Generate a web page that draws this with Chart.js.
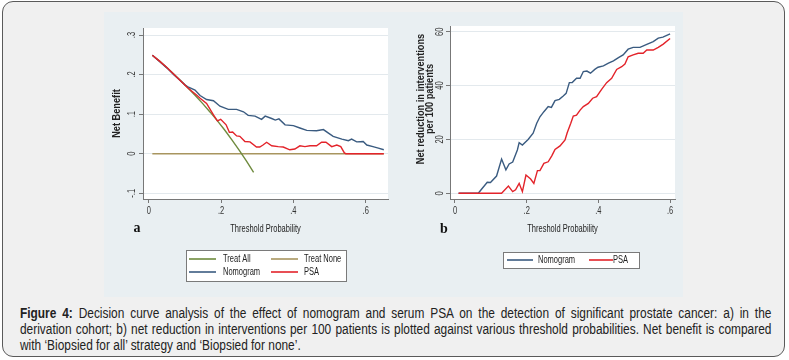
<!DOCTYPE html>
<html><head><meta charset="utf-8">
<script src="https://cdn.jsdelivr.net/npm/chart.js@4"></script>
<style>
html,body{margin:0;padding:0;background:#fff;width:789px;height:360px;overflow:hidden;}
#frame{position:absolute;left:2px;top:1px;width:781px;height:354px;border:1.5px solid #5a5a5a;border-radius:11px;background:#f0f0f0;}
#panels{position:absolute;left:104px;top:12px;width:579px;height:285px;background:#e9eff2;}
#ca{position:absolute;left:104px;top:12px;}
#cb{position:absolute;left:394px;top:12px;}
#cap{position:absolute;left:20px;top:305px;width:884px;transform:scaleX(0.85);transform-origin:0 0;font-family:'Liberation Sans',Arial,sans-serif;font-size:14px;line-height:16px;color:#222;}
#cap div{white-space:nowrap;}
#cap .j{text-align:justify;text-align-last:justify;}
</style>
</head><body>
<div id="frame"></div>
<div id="panels"></div>
<canvas id="ca" width="290" height="285"></canvas>
<canvas id="cb" width="289" height="285"></canvas>
<div id="cap"><div class="j"><b>Figure 4:</b> Decision curve analysis of the effect of nomogram and serum PSA on the detection of significant prostate cancer: a) in the</div><div class="j">derivation cohort; b) net reduction in interventions per 100 patients is plotted against various threshold probabilities. Net benefit is compared</div><div>with ‘Biopsied for all’ strategy and ‘Biopsied for none’.</div></div>
<script>
// ---------- Panel a data (net benefit) ----------
const aTreatAllX = [0.01,0.03,0.05,0.07,0.09,0.11,0.13,0.15,0.17,0.19,0.21,0.23,0.25,0.27,0.29];
const aTreatAllY = [0.249,0.234,0.218,0.201,0.183,0.165,0.146,0.126,0.105,0.083,0.060,0.035,0.009,-0.018,-0.047];
const aTreatNoneX = [0.01,0.65];
const aTreatNoneY = [0,0];
const aNomogramX = [0.01,0.03,0.05,0.07,0.085,0.10,0.11,0.128,0.142,0.16,0.179,0.197,0.22,0.243,0.262,0.275,0.294,0.312,0.322,0.34,0.35,0.36,0.377,0.40,0.418,0.437,0.464,0.483,0.497,0.51,0.534,0.552,0.561,0.575,0.593,0.603,0.62,0.635,0.65];
const aNomogramY = [0.249,0.233,0.217,0.199,0.187,0.174,0.168,0.161,0.147,0.137,0.134,0.120,0.112,0.112,0.106,0.097,0.095,0.087,0.095,0.089,0.085,0.088,0.073,0.071,0.065,0.059,0.058,0.061,0.052,0.044,0.037,0.033,0.037,0.030,0.031,0.022,0.018,0.014,0.010];
const aPsaX = [0.01,0.03,0.05,0.07,0.085,0.11,0.133,0.142,0.16,0.179,0.19,0.199,0.214,0.223,0.232,0.243,0.252,0.266,0.28,0.298,0.307,0.316,0.326,0.34,0.358,0.372,0.39,0.404,0.418,0.432,0.446,0.464,0.478,0.49,0.506,0.52,0.531,0.541,0.545,0.65];
const aPsaY = [0.249,0.234,0.218,0.200,0.187,0.165,0.148,0.140,0.127,0.098,0.083,0.087,0.073,0.054,0.055,0.045,0.044,0.031,0.030,0.017,0.017,0.022,0.029,0.020,0.018,0.017,0.010,0.012,0.020,0.018,0.020,0.020,0.029,0.029,0.018,0.022,0.018,0.002,0,0];
const aXTicks = [0,0.2,0.4,0.6];
const aYTicks = [-0.1,0,0.1,0.2,0.3];

// ---------- Panel b data (net reduction in interventions) ----------
const bNomogramX = [0.01,0.065,0.074,0.09,0.099,0.116,0.13,0.142,0.151,0.161,0.174,0.179,0.188,0.204,0.218,0.228,0.237,0.248,0.26,0.269,0.279,0.291,0.302,0.31,0.319,0.327,0.339,0.349,0.358,0.368,0.378,0.39,0.399,0.414,0.428,0.442,0.456,0.469,0.483,0.497,0.516,0.535,0.553,0.567,0.58,0.6];
const bNomogramY = [0,0,1.5,4.1,4.0,6.4,12.7,8.7,10.9,11.6,16.1,18.8,17.9,20.0,22.3,26.0,28.4,30.3,32.2,31.9,34.4,34.9,36.1,37.1,41.1,41.1,42.7,42.7,45.2,45.4,44.6,46.0,46.8,47.3,48.3,49.2,50.4,51.4,53.5,54.2,54.2,55.3,56.3,57.6,58.0,59.2];
const bPsaX = [0.01,0.13,0.149,0.161,0.169,0.179,0.188,0.198,0.211,0.22,0.23,0.237,0.248,0.26,0.27,0.279,0.293,0.307,0.313,0.323,0.33,0.339,0.349,0.358,0.372,0.384,0.395,0.409,0.423,0.437,0.451,0.465,0.474,0.483,0.497,0.511,0.525,0.535,0.553,0.567,0.581,0.6];
const bPsaY = [0,0,2.7,0.6,1.3,3.7,0.6,6.8,5.3,3.7,8.4,8.4,11.1,11.7,13.9,16.3,17.6,19.8,22.5,26.0,28.7,29.0,30.9,32.2,33.4,35.3,35.9,38.6,41.1,42.7,46.0,47.0,48.0,50.7,51.4,52.0,52.0,53.2,53.2,54.2,55.4,57.5];
const bXTicks = [0,0.2,0.4,0.6];
const bYTicks = [0,20,40,60];

const COL = {'Treat All':'#6f8b3e','Treat None':'#a8955f','Nomogram':'#3a5b80','PSA':'#e3232a'};
const FONT = "'Liberation Sans',Arial,sans-serif";
Chart.defaults.font.family = FONT;
Chart.defaults.color = '#333';

const pts = (xs, ys) => xs.map((x,i)=>({x:x, y:ys[i]}));
const fmt = v => String(v).replace('0.', '.');

// narrow (condensed) rendering of canvas text, like the reference's condensed font
function narrowText(ctx){
  const orig = ctx.fillText;
  ctx.fillText = function(t, x, y){
    const f = this.font;
    if (/Serif/.test(f)) return orig.call(this, t, x, y);
    const sx = /bold/.test(f) ? 0.92 : 0.75;
    this.save(); this.translate(x, y); this.scale(sx, 1); orig.call(this, t, 0, 0); this.restore();
  };
  return ctx;
}

const whiteArea = {
  id:'whiteArea',
  beforeDraw(c){ const a=c.chartArea, x=c.ctx; x.save(); x.fillStyle='#fff'; x.fillRect(a.left,a.top,a.right-a.left,a.bottom-a.top); x.restore(); }
};
const extras = {
  id:'extras',
  afterDraw(c, args, o){
    const ctx=c.ctx, a=c.chartArea;
    ctx.save();
    ctx.font = 'bold 14px "Liberation Serif", serif';
    ctx.fillStyle='#111'; ctx.textAlign='center'; ctx.textBaseline='middle';
    ctx.fillText(o.letter, a.left + o.letterDx, a.bottom + o.letterDy);
    if (o.yTitle) {
      ctx.save();
      ctx.translate(o.yTitle.x, o.yTitle.y); ctx.rotate(-Math.PI/2);
      ctx.font = 'bold 10px ' + FONT; ctx.fillStyle='#222';
      o.yTitle.lines.forEach((t,i)=>ctx.fillText(t, 0, i*o.yTitle.lh));
      ctx.restore();
    }
    const L=o.legend;
    ctx.fillStyle='#fff'; ctx.fillRect(L.x, L.y, L.w, L.h);
    ctx.strokeStyle='#7a7a7a'; ctx.lineWidth=1; ctx.strokeRect(L.x+0.5, L.y+0.5, L.w, L.h);
    ctx.font = '10px ' + FONT; ctx.textAlign='left'; ctx.textBaseline='middle';
    L.items.forEach(it=>{
      const d = c.data.datasets.find(s=>s.label===it.label);
      ctx.strokeStyle = d.borderColor; ctx.lineWidth=1.6;
      ctx.beginPath(); ctx.moveTo(it.x, it.y); ctx.lineTo(it.x+it.len, it.y); ctx.stroke();
      ctx.fillStyle='#222'; ctx.fillText(it.label, it.x+it.len+it.gap, it.y);
    });
    ctx.restore();
  }
};

function ds(label, xs, ys, order){
  return {label, data: pts(xs,ys), borderColor: COL[label], backgroundColor: COL[label], borderWidth:1.4, pointRadius:0, tension:0, fill:false, order};
}
function axisX(min,max,ticks,h,titlePad){
  return { type:'linear', min, max,
    afterBuildTicks: s => { s.ticks = ticks.map(v=>({value:v})); },
    afterFit: s => { s.height = h; },
    grid:{ drawOnChartArea:false, drawTicks:true, tickLength:4, tickColor:'#777', tickWidth:1 },
    border:{ display:true, color:'#777', width:1 },
    ticks:{ callback: fmt, autoSkip:false, minRotation:0, maxRotation:0, padding:2, font:{size:10}, color:'#333' },
    title:{ display:true, text:'Threshold Probability', font:{size:10}, color:'#222', padding:{top:0, bottom:titlePad} }
  };
}
function axisY(min,max,ticks,w,title,titlePad){
  return { type:'linear', min, max,
    afterBuildTicks: s => { s.ticks = ticks.map(v=>({value:v})); },
    afterFit: s => { s.width = w; },
    grid:{ color:'#e3e9ed', lineWidth:1, drawTicks:true, tickLength:4, tickColor:'#777', tickWidth:1 },
    border:{ display:true, color:'#777', width:1 },
    ticks:{ callback: fmt, autoSkip:false, minRotation:90, maxRotation:90, crossAlign:'center', padding:0.5, font:{size:10}, color:'#333' },
    title:{ display: !!title, text: title || '', font:{size:10, weight:'bold'}, color:'#222', padding:{top:titlePad, bottom:0} }
  };
}

new Chart(narrowText(document.getElementById('ca').getContext('2d')), {
  type:'line',
  data:{ datasets:[
    ds('Treat All', aTreatAllX, aTreatAllY, 3),
    ds('Treat None', aTreatNoneX, aTreatNoneY, 4),
    ds('Nomogram', aNomogramX, aNomogramY, 2),
    ds('PSA', aPsaX, aPsaY, 1)
  ]},
  options:{ responsive:false, animation:false, devicePixelRatio:1,
    layout:{ padding:{left:0, top:16, right:6, bottom:0} },
    plugins:{ legend:{display:false}, tooltip:{enabled:false},
      extras:{ letter:'a', letterDx:-6, letterDy:29,
        legend:{ x:82, y:238, w:160, h:31, items:[
          {label:'Treat All', x:85, y:247, len:27, gap:7},
          {label:'Treat None', x:167, y:247, len:27, gap:6},
          {label:'Nomogram', x:85, y:260, len:27, gap:7},
          {label:'PSA', x:167, y:260, len:27, gap:6}
        ]}
      }
    },
    scales:{
      x: axisX(-0.0158, 0.6616, aXTicks, 98, 62),
      y: axisY(-0.1144, 0.3177, aYTicks, 39, 'Net Benefit', 7)
    }
  },
  plugins:[whiteArea, extras]
});

new Chart(narrowText(document.getElementById('cb').getContext('2d')), {
  type:'line',
  data:{ datasets:[
    ds('Nomogram', bNomogramX, bNomogramY, 2),
    ds('PSA', bPsaX, bPsaY, 1)
  ]},
  options:{ responsive:false, animation:false, devicePixelRatio:1,
    layout:{ padding:{left:0, top:14, right:8, bottom:0} },
    plugins:{ legend:{display:false}, tooltip:{enabled:false},
      extras:{ letter:'b', letterDx:-6, letterDy:30,
        yTitle:{ x:27, y:87, lh:9.5, lines:['Net reduction in interventions','per 100 patients'] },
        legend:{ x:109, y:240, w:136, h:16, items:[
          {label:'Nomogram', x:113, y:248, len:26, gap:5},
          {label:'PSA', x:195, y:248, len:24, gap:0}
        ]}
      }
    },
    scales:{
      x: axisX(-0.0139, 0.6137, bXTicks, 98, 62),
      y: axisY(-2.12, 62.12, bYTicks, 56, null, 0)
    }
  },
  plugins:[whiteArea, extras]
});
</script>
</body></html>
